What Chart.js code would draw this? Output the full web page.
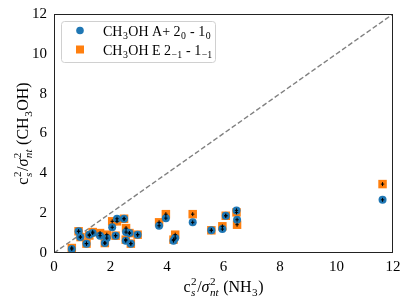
<!DOCTYPE html>
<html>
<head>
<meta charset="utf-8">
<script src="https://cdn.jsdelivr.net/npm/chart.js@4"></script>
<style>
  html, body { margin: 0; padding: 0; background: #fff; }
  #wrap { width: 409px; height: 306px; }
</style>
</head>
<body>
<div id="wrap"><canvas id="c"></canvas></div>
<script>
// CH3OH A+ 2_0 - 1_0
const aX = [0.63, 0.87, 0.93, 1.15, 1.25, 1.37, 1.63, 1.87, 1.80, 2.06, 2.23, 2.18, 2.48, 2.55, 2.54, 2.67, 2.72, 2.96, 3.72, 3.96, 4.23, 4.29, 4.91, 5.57, 5.96, 6.08, 6.46, 6.48, 11.63];
const aY = [0.20, 1.09, 0.80, 0.47, 0.92, 1.00, 0.87, 0.75, 0.50, 1.29, 1.72, 0.87, 1.72, 1.05, 0.62, 1.00, 0.47, 0.92, 1.37, 1.75, 0.62, 0.75, 1.54, 1.14, 1.20, 1.87, 2.14, 1.67, 2.67];
// CH3OH E 2_-1 - 1_-1
const eX = [0.63, 0.87, 0.94, 1.15, 1.25, 1.37, 1.63, 1.80, 1.87, 2.06, 2.23, 2.18, 2.48, 2.55, 2.54, 2.67, 2.72, 2.96, 3.72, 3.96, 4.23, 4.29, 4.91, 5.57, 5.96, 6.08, 6.46, 6.48, 11.63];
const eY = [0.25, 1.09, 0.80, 0.47, 0.88, 1.05, 1.00, 0.50, 0.92, 1.59, 1.59, 0.87, 1.72, 1.25, 0.67, 1.00, 0.47, 0.92, 1.54, 1.95, 0.67, 0.92, 1.95, 1.14, 1.34, 1.87, 2.04, 1.42, 3.46];
const errX = 0.06;
const errY = 0.1;
const ticks = [0, 2, 4, 6, 8, 10, 12];

const blue = '#1f77b4';
const orange = '#ff7f0e';
const serif = '"Liberation Serif", "DejaVu Serif", serif';

function pts(xs, ys) {
    return xs.map((x, i) => ({x: x, y: ys[i]}));
}

// rich text: parts of {t} or {sup, sub} (stacked) with optional italic
function partWidth(ctx, p, size) {
    if (p.t !== undefined) {
        ctx.font = (p.it ? 'italic ' : '') + size + 'px ' + serif;
        return ctx.measureText(p.t).width;
    }
    let w = 0;
    const s = size * 0.7;
    if (p.sup) { ctx.font = s + 'px ' + serif; w = Math.max(w, ctx.measureText(p.sup).width); }
    if (p.sub) { ctx.font = (p.subIt ? 'italic ' : '') + s + 'px ' + serif; w = Math.max(w, ctx.measureText(p.sub).width); }
    return w + 1;
}
function drawRich(ctx, parts, x, y, size) {
    // x is center, y is baseline
    let total = 0;
    parts.forEach(p => total += partWidth(ctx, p, size));
    let cx = x - total / 2;
    ctx.textAlign = 'left';
    ctx.textBaseline = 'alphabetic';
    ctx.fillStyle = '#000';
    parts.forEach(p => {
        const w = partWidth(ctx, p, size);
        if (p.t !== undefined) {
            ctx.font = (p.it ? 'italic ' : '') + size + 'px ' + serif;
            ctx.fillText(p.t, cx, y);
        } else {
            const s = size * 0.7;
            if (p.sup) { ctx.font = s + 'px ' + serif; ctx.fillText(p.sup, cx + 0.5, y - size * 0.42); }
            if (p.sub) { ctx.font = (p.subIt ? 'italic ' : '') + s + 'px ' + serif; ctx.fillText(p.sub, cx + 0.5, y + size * 0.22); }
        }
        cx += w;
    });
}
function drawRichLeft(ctx, parts, x, y, size) {
    let total = 0;
    parts.forEach(p => total += partWidth(ctx, p, size));
    drawRich(ctx, parts, x + total / 2, y, size);
}

const xTitle = [{t: 'c'}, {sup: '2', sub: 's', subIt: true}, {t: '/'}, {t: 'σ', it: true}, {sup: '2', sub: 'nt', subIt: true}, {t: ' (NH'}, {sub: '3'}, {t: ')'}];
const yTitle = [{t: 'c'}, {sup: '2', sub: 's', subIt: true}, {t: '/'}, {t: 'σ', it: true}, {sup: '2', sub: 'nt', subIt: true}, {t: ' (CH'}, {sub: '3'}, {t: 'OH)'}];
const legA = [{t: 'CH'}, {sub: '3'}, {t: 'OH A+ 2'}, {sub: '0'}, {t: ' - 1'}, {sub: '0'}];
const legE = [{t: 'CH'}, {sub: '3'}, {t: 'OH E 2'}, {sub: '−1'}, {t: ' - 1'}, {sub: '−1'}];

const extras = {
    id: 'extras',
    beforeDatasetsDraw(chart) {
        const ctx = chart.ctx, xs = chart.scales.x, ys = chart.scales.y;
        // 1:1 line
        ctx.save();
        ctx.beginPath();
        ctx.rect(chart.chartArea.left, chart.chartArea.top, chart.chartArea.width, chart.chartArea.height);
        ctx.clip();
        ctx.strokeStyle = '#808080';
        ctx.lineWidth = 1.4;
        ctx.setLineDash([5, 2.5]);
        ctx.beginPath();
        ctx.moveTo(xs.getPixelForValue(0), ys.getPixelForValue(0));
        ctx.lineTo(xs.getPixelForValue(12), ys.getPixelForValue(12));
        ctx.stroke();
        ctx.restore();
    },
    afterDatasetsDraw(chart) {
        const ctx = chart.ctx, xs = chart.scales.x, ys = chart.scales.y;
        ctx.save();
        ctx.strokeStyle = '#000';
        ctx.lineWidth = 1;
        const bars = (X, Y) => {
            X.forEach((x, i) => {
                const y = Y[i];
                ctx.beginPath();
                ctx.moveTo(xs.getPixelForValue(x), ys.getPixelForValue(y - errY));
                ctx.lineTo(xs.getPixelForValue(x), ys.getPixelForValue(y + errY));
                ctx.moveTo(xs.getPixelForValue(x - errX), ys.getPixelForValue(y));
                ctx.lineTo(xs.getPixelForValue(x + errX), ys.getPixelForValue(y));
                ctx.stroke();
            });
        };
        bars(aX, aY);
        bars(eX, eY);
        // frame
        const a = chart.chartArea;
        ctx.strokeStyle = '#222';
        ctx.lineWidth = 1;
        ctx.strokeRect(a.left + 0.5, a.top + 0.5, a.width - 1, a.height - 1);
        ctx.restore();
    },
    afterDraw(chart) {
        const ctx = chart.ctx, a = chart.chartArea;
        ctx.save();
        // legend
        const lx = 61, ly = 21, lw = 154, lh = 41, r = 3;
        ctx.fillStyle = 'rgba(255,255,255,0.8)';
        ctx.strokeStyle = '#d0d0d0';
        ctx.lineWidth = 1;
        ctx.beginPath();
        ctx.roundRect(lx + 0.5, ly + 0.5, lw, lh, r);
        ctx.fill();
        ctx.stroke();
        ctx.fillStyle = blue;
        ctx.beginPath();
        ctx.arc(80, 30.5, 3.8, 0, Math.PI * 2);
        ctx.fill();
        ctx.fillStyle = orange;
        ctx.fillRect(76, 45.5, 8, 8);
        drawRichLeft(ctx, legA, 103, 35.5, 14);
        drawRichLeft(ctx, legE, 103, 54.5, 14);
        // axis titles
        drawRich(ctx, xTitle, (a.left + a.right) / 2, 292, 16);
        ctx.translate(28, (a.top + a.bottom) / 2);
        ctx.rotate(-Math.PI / 2);
        drawRich(ctx, yTitle, 0, 0, 16);
        ctx.restore();
    }
};

const tickFont = {family: serif, size: 15};

new Chart(document.getElementById('c'), {
    type: 'scatter',
    data: {
        datasets: [
            {
                label: 'A',
                data: pts(aX, aY),
                backgroundColor: blue,
                borderColor: blue,
                pointStyle: 'circle',
                pointRadius: 4,
                borderWidth: 0
            },
            {
                label: 'E',
                data: pts(eX, eY),
                backgroundColor: orange,
                borderColor: orange,
                pointStyle: 'rect',
                pointRadius: 6,
                borderWidth: 0
            }
        ]
    },
    options: {
        responsive: true,
        maintainAspectRatio: false,
        animation: false,
        layout: {padding: {top: 14, right: 16, left: 0, bottom: 0}},
        plugins: {
            legend: {display: false},
            tooltip: {enabled: false}
        },
        scales: {
            x: {
                type: 'linear',
                min: 0, max: 12,
                afterBuildTicks: s => { s.ticks = ticks.map(v => ({value: v})); },
                afterFit: s => { s.height = 53; },
                grid: {display: false, drawOnChartArea: false, drawTicks: true, tickLength: 4, tickColor: '#222'},
                border: {display: false},
                ticks: {color: '#000', font: tickFont, padding: 1, maxRotation: 0}
            },
            y: {
                type: 'linear',
                min: 0, max: 12,
                afterBuildTicks: s => { s.ticks = ticks.map(v => ({value: v})); },
                afterFit: s => { s.width = 54; },
                grid: {display: false, drawOnChartArea: false, drawTicks: true, tickLength: 4, tickColor: '#222'},
                border: {display: false},
                ticks: {color: '#000', font: tickFont, padding: 3}
            }
        }
    },
    plugins: [extras]
});
</script>
</body>
</html>
